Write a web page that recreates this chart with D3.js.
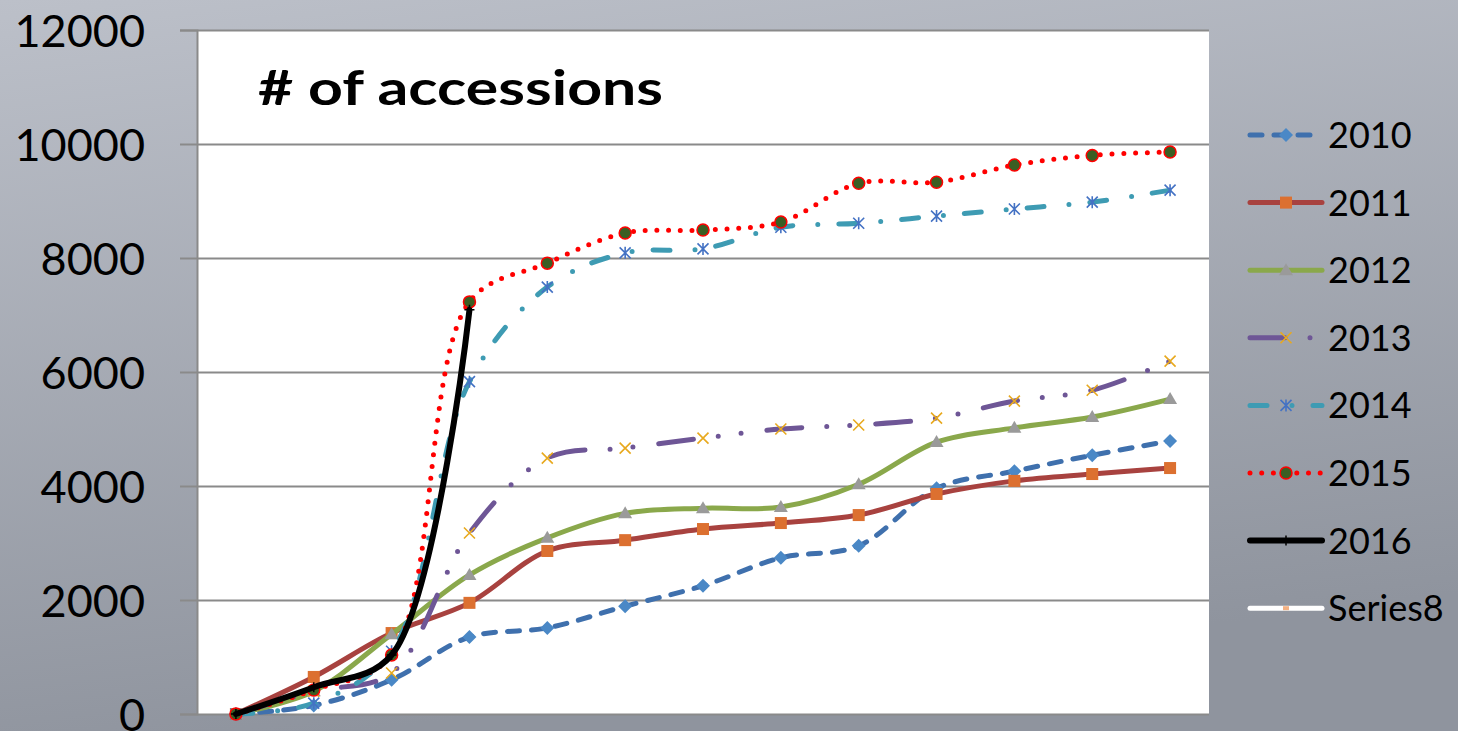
<!DOCTYPE html>
<html>
<head>
<meta charset="utf-8">
<script src="https://cdn.jsdelivr.net/npm/d3@7"></script>
<style>
  html, body { margin: 0; padding: 0; overflow: hidden; }
  svg { display: block; }
</style>
</head>
<body>
<div id="chart"></div>
<script>
// x positions (13 periods, no labels shown in the picture)
const periods = ["0", "1", "2", "3", "4", "5", "6", "7", "8", "9", "10", "11", "12"];
const yTicks = [0, 2000, 4000, 6000, 8000, 10000, 12000];

// cumulative number of accessions per year
const s2010 = [0, 150, 600, 1350, 1510, 1890, 2250, 2740, 2950, 3960, 4260, 4540, 4790];
const s2011 = [0, 650, 1420, 1950, 2860, 3050, 3245, 3350, 3490, 3860, 4090, 4210, 4315];
const s2012 = [0, 400, 1400, 2440, 3090, 3520, 3610, 3630, 4030, 4770, 5020, 5210, 5525];
const s2013 = [0, 400, 720, 3175, 4490, 4665, 4840, 5000, 5070, 5190, 5490, 5680, 6190];
const s2014 = [0, 190, 1100, 5830, 7490, 8090, 8160, 8540, 8610, 8735, 8860, 8980, 9190];
const s2015 = [0, 420, 1035, 7230, 7910, 8440, 8490, 8630, 9310, 9330, 9630, 9800, 9860];
const s2016 = [0, 470, 1035, 7090];
const series8 = [];

const seriesNames = ["2010", "2011", "2012", "2013", "2014", "2015", "2016", "Series8"];
const seriesValues = [s2010, s2011, s2012, s2013, s2014, s2015, s2016, series8];

// line / marker look of each series (Excel style)
const styles = {
    "2010": { stroke: "#3f70ad", dash: "12,12", width: 5, marker: "diamond", fill: "#4a88c6", mstroke: "#4a88c6" },
    "2011": { stroke: "#a8423f", dash: null, width: 5, marker: "square", fill: "#dc7030", mstroke: "#dc7030" },
    "2012": { stroke: "#8aa84b", dash: null, width: 5, marker: "triangle", fill: "#9a9a9a", mstroke: "#9a9a9a" },
    "2013": { stroke: "#6e5696", dash: "35,25,0,23,0,26", width: 5, marker: "x", fill: "none", mstroke: "#e8a91e" },
    "2014": { stroke: "#3e9bb3", dash: "17,25,0,21", width: 5, marker: "asterisk", fill: "none", mstroke: "#4472c4" },
    "2015": { stroke: "#ff0000", dash: "0,11.7", width: 5, marker: "circle", fill: "#3b5e23", mstroke: "#ff0000" },
    "2016": { stroke: "#000000", dash: null, width: 6, marker: "plus", fill: "none", mstroke: "#000000" },
    "Series8": { stroke: "#ffffff", dash: null, width: 5, marker: "bar", fill: "#f4b183", mstroke: "none" }
};

const width = 1458, height = 731;
const plot = { left: 197, right: 1209, top: 30, bottom: 714 };
const fontFamily = "Lato, 'Open Sans', sans-serif";

const svg = d3.select("#chart").append("svg")
    .attr("width", width)
    .attr("height", height)
    .attr("xmlns", "http://www.w3.org/2000/svg");

// gray slide background
const defs = svg.append("defs");
const grad = defs.append("linearGradient").attr("id", "bg")
    .attr("x1", "0").attr("y1", "0").attr("x2", "0.25").attr("y2", "1");
grad.append("stop").attr("offset", "0%").attr("stop-color", "#bcc0c9");
grad.append("stop").attr("offset", "100%").attr("stop-color", "#8f949e");
svg.append("rect").attr("width", width).attr("height", height).attr("fill", "url(#bg)");

const xScale = d3.scalePoint()
    .domain(periods)
    .range([plot.left, plot.right])
    .padding(0.5);

const yScale = d3.scaleLinear()
    .domain([0, 12000])
    .range([plot.bottom, plot.top]);

// plot area
svg.append("rect")
    .attr("x", plot.left).attr("y", plot.top)
    .attr("width", plot.right - plot.left).attr("height", plot.bottom - plot.top)
    .attr("fill", "#ffffff");

// gridlines + tick marks + labels
svg.append("g")
    .attr("class", "grid")
    .attr("transform", `translate(${plot.left},0)`)
    .call(d3.axisLeft(yScale).tickValues(yTicks).tickSize(-(plot.right - plot.left)).tickFormat(""))
    .call(g => g.select(".domain").remove())
    .call(g => g.selectAll("line").attr("stroke", "#8a8a8a").attr("stroke-width", 2));

svg.append("g")
    .attr("class", "y-axis")
    .attr("transform", `translate(${plot.left},0)`)
    .call(d3.axisLeft(yScale).tickValues(yTicks).tickSize(17).tickPadding(35).tickFormat(d3.format("d")))
    .call(g => g.select(".domain").attr("stroke", "#8a8a8a").attr("stroke-width", 2))
    .call(g => g.selectAll("line").attr("stroke", "#8a8a8a").attr("stroke-width", 2))
    .call(g => g.selectAll("text")
        .attr("fill", "#000")
        .attr("font-family", fontFamily)
        .attr("font-size", 45)
        .attr("dy", "0.36em"));

// marker shapes
function drawMarker(g, type, st, cx, cy) {
    const m = g.append("g").attr("transform", `translate(${cx},${cy})`);
    if (type === "diamond") {
        m.append("path").attr("d", "M0,-7L7,0L0,7L-7,0Z").attr("fill", st.fill);
    } else if (type === "square") {
        m.append("rect").attr("x", -6).attr("y", -6).attr("width", 12).attr("height", 12).attr("fill", st.fill);
    } else if (type === "triangle") {
        m.append("path").attr("d", "M0,-7L7,5L-7,5Z").attr("fill", st.fill);
    } else if (type === "x") {
        m.append("path").attr("d", "M-5.5,-5.5L5.5,5.5M-5.5,5.5L5.5,-5.5")
            .attr("stroke", st.mstroke).attr("stroke-width", 1.6).attr("fill", "none");
    } else if (type === "asterisk") {
        m.append("path").attr("d", "M-5.5,-5.5L5.5,5.5M-5.5,5.5L5.5,-5.5M0,-6L0,6")
            .attr("stroke", st.mstroke).attr("stroke-width", 1.6).attr("fill", "none");
    } else if (type === "circle") {
        m.append("circle").attr("r", 6).attr("fill", st.fill)
            .attr("stroke", st.mstroke).attr("stroke-width", 1.5);
    } else if (type === "plus") {
        m.append("path").attr("d", "M-5,0L5,0M0,-5L0,5")
            .attr("stroke", st.mstroke).attr("stroke-width", 1.5).attr("fill", "none");
    } else if (type === "bar") {
        m.append("rect").attr("x", -3).attr("y", -2).attr("width", 6).attr("height", 4).attr("fill", st.fill);
    }
}

const line = d3.line()
    .x((d, i) => xScale(periods[i]))
    .y(d => yScale(d))
    .curve(d3.curveCatmullRom.alpha(0.5));

const seriesG = svg.append("g").attr("class", "series");
seriesNames.forEach((name, k) => {
    const vals = seriesValues[k];
    if (!vals.length) return;
    const st = styles[name];
    const g = seriesG.append("g");
    g.append("path")
        .datum(vals)
        .attr("fill", "none")
        .attr("stroke", st.stroke)
        .attr("stroke-width", st.width)
        .attr("stroke-linecap", "round")
        .attr("stroke-linejoin", "round")
        .attr("stroke-dasharray", st.dash)
        .attr("d", line);
    vals.forEach((v, i) => drawMarker(g, st.marker, st, xScale(periods[i]), yScale(v)));
});

// title
svg.append("text")
    .attr("x", 258)
    .attr("y", 105)
    .attr("font-family", fontFamily)
    .attr("font-weight", "bold")
    .attr("font-size", 48)
    .attr("textLength", 405)
    .attr("lengthAdjust", "spacingAndGlyphs")
    .attr("fill", "#000")
    .text("# of accessions");

// legend
const legend = svg.append("g").attr("class", "legend");
seriesNames.forEach((name, k) => {
    const st = styles[name];
    const cy = 135 + k * 67.6;
    const g = legend.append("g");
    g.append("line")
        .attr("x1", 1250).attr("x2", 1322).attr("y1", cy).attr("y2", cy)
        .attr("stroke", st.stroke)
        .attr("stroke-width", st.width)
        .attr("stroke-linecap", "round")
        .attr("stroke-dasharray", st.dash);
    drawMarker(g, st.marker, st, 1286, cy);
    g.append("text")
        .attr("x", 1328)
        .attr("y", cy)
        .attr("dy", "0.36em")
        .attr("font-family", fontFamily)
        .attr("font-size", 36)
        .attr("fill", "#000")
        .text(name);
});
</script>
</body>
</html>
